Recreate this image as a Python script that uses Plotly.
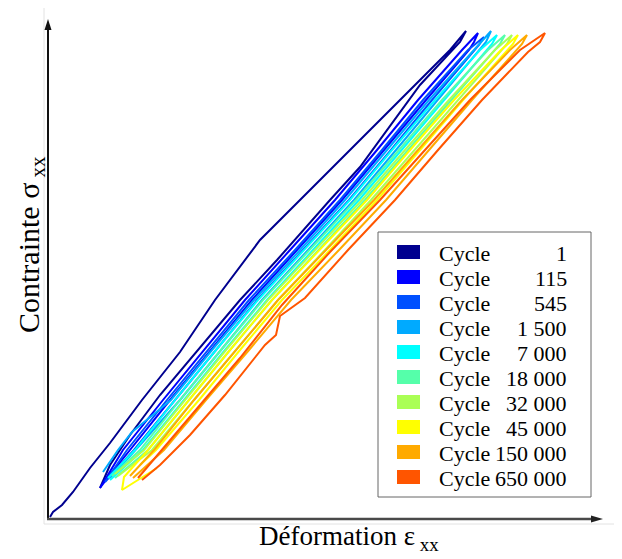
import plotly.graph_objects as go

# ---------------- data (arbitrary strain / stress units) ----------------
cycle_labels = ["1", "115", "545", "1 500", "7 000", "18 000", "32 000", "45 000", "150 000", "650 000"]
cycle_colors = ["#00008F", "#0000FF", "#0050FF", "#00AAFF", "#00FFFF",
                "#55FFAA", "#AAFF55", "#FFFF00", "#FFAA00", "#FF5500"]

c1_strain = [2, 5, 14, 25, 42, 62, 94, 132, 167, 212, 252, 292, 332, 372, 402, 418,
             412, 372, 312, 282, 229, 192, 152, 112, 82, 62, 52]
c1_stress = [2, 7, 14, 27, 51, 76, 119, 167, 219, 279, 319, 359, 399, 439, 469, 488,
             477, 434, 352, 319, 259, 219, 171, 124, 84, 54, 31]

c115_strain = [52, 64, 75, 115, 156, 197, 242, 287, 329, 370, 414, 430,
               426, 421, 378, 336, 294, 249, 204, 163, 122, 82, 64, 52]
c115_stress = [31, 51, 69, 119, 169, 219, 269, 319, 369, 419, 469, 486,
               477, 469, 419, 369, 319, 269, 219, 169, 119, 69, 47, 31]

c545_strain = [57, 79, 119, 160, 201, 247, 292, 334, 375, 420, 436,
               431, 384, 343, 301, 255, 209, 168, 127, 86, 57]
c545_stress = [37, 69, 119, 169, 219, 269, 319, 369, 419, 469, 482,
               474, 419, 369, 319, 269, 219, 169, 119, 69, 37]

c1500_strain = [55, 70, 84, 123, 164, 206, 252, 297, 339, 381, 426, 443,
                438, 390, 348, 306, 260, 214, 173, 132, 92, 77, 62]
c1500_stress = [47, 69, 87, 119, 169, 219, 269, 319, 369, 419, 469, 488,
                477, 419, 369, 319, 269, 219, 169, 119, 74, 57, 41]

c7000_strain = [60, 87, 127, 168, 210, 256, 302, 344, 387, 432, 449,
                444, 396, 353, 311, 265, 219, 177, 136, 95, 62]
c7000_stress = [41, 69, 119, 169, 219, 269, 319, 369, 419, 469, 484,
                475, 419, 369, 319, 269, 219, 169, 119, 69, 39]

c18000_strain = [64, 92, 132, 173, 215, 262, 308, 351, 394, 440, 457,
                 452, 403, 360, 317, 271, 224, 182, 141, 100, 67]
c18000_stress = [43, 69, 119, 169, 219, 269, 319, 369, 419, 469, 484,
                 475, 419, 369, 319, 269, 219, 169, 119, 69, 41]

c32000_strain = [67, 96, 137, 178, 220, 267, 314, 357, 401, 447, 464,
                 459, 410, 366, 323, 277, 230, 188, 146, 104, 70]
c32000_stress = [45, 69, 119, 169, 219, 269, 319, 369, 419, 469, 484,
                 475, 419, 369, 319, 269, 219, 169, 119, 69, 43]

c45000_strain = [109, 74, 76, 100, 141, 182, 224, 272, 319, 362, 406, 453, 470,
                 465, 415, 372, 329, 282, 234, 192, 151, 108, 92]
c45000_stress = [51, 29, 42, 69, 119, 169, 219, 269, 319, 369, 419, 469, 484,
                 475, 419, 369, 319, 269, 219, 169, 119, 69, 54]

c150000_strain = [82, 106, 146, 188, 230, 278, 326, 370, 414, 462, 479,
                  474, 424, 381, 338, 291, 243, 201, 158, 116, 85]
c150000_stress = [43, 69, 119, 169, 219, 269, 319, 369, 419, 469, 484,
                  475, 419, 369, 319, 269, 219, 169, 119, 69, 41]

c650000_strain = [90, 112, 152, 192, 234, 282, 332, 377, 422, 472, 497,
                  492, 480, 434, 390, 347, 300, 257, 237, 232, 228, 217, 177, 142, 112, 94]
c650000_stress = [41, 67, 114, 161, 214, 267, 319, 369, 419, 469, 486,
                  477, 467, 419, 369, 319, 269, 221, 207, 203, 184, 174, 124, 84, 54, 39]

strains = [c1_strain, c115_strain, c545_strain, c1500_strain, c7000_strain,
           c18000_strain, c32000_strain, c45000_strain, c150000_strain, c650000_strain]
stresses = [c1_stress, c115_stress, c545_stress, c1500_stress, c7000_stress,
            c18000_stress, c32000_stress, c45000_stress, c150000_stress, c650000_stress]

# ---------------- figure ----------------
# the page body has an 8px margin; figure placed at page (8, 8)
OFF = 8
W, H = 606, 543
ML, MR, MT, MB = 40, 12, 12, 32
PW, PH = W - ML - MR, H - MT - MB
X_MAX, Y_MAX = 554, 499
FONT = "Liberation Serif, Times New Roman, serif"


def px(xp):
    """page pixel x -> paper x"""
    return (xp - OFF - ML) / PW


def py(yp):
    """page pixel y -> paper y"""
    return (H - MB - (yp - OFF)) / PH


fig = go.Figure()
for lab, col, sx, sy in zip(cycle_labels, cycle_colors, strains, stresses):
    fig.add_trace(go.Scatter(x=sx, y=sy, mode="lines", name="Cycle " + lab,
                             line=dict(color=col, width=2), showlegend=False,
                             hoverinfo="skip"))

shapes = []
annotations = []

# faint outer frame (left and bottom)
shapes.append(dict(type="line", xref="paper", yref="paper", x0=px(44), x1=px(44), y0=py(8), y1=py(524),
                   line=dict(color="#e2e2e2", width=1)))
shapes.append(dict(type="line", xref="paper", yref="paper", x0=px(44), x1=px(614), y0=py(524), y1=py(524),
                   line=dict(color="#e2e2e2", width=1)))

# axes with arrowheads
shapes.append(dict(type="line", xref="paper", yref="paper", x0=px(48), x1=px(48), y0=py(519), y1=py(26),
                   line=dict(color="#111111", width=2)))
shapes.append(dict(type="path", xref="paper", yref="paper",
                   path=f"M {px(44.5)} {py(30)} L {px(51.5)} {py(30)} L {px(48)} {py(19)} Z",
                   fillcolor="#111111", line=dict(width=0)))
shapes.append(dict(type="line", xref="paper", yref="paper", x0=px(47), x1=px(594), y0=py(519), y1=py(519),
                   line=dict(color="#4a4a4a", width=2.6)))
shapes.append(dict(type="path", xref="paper", yref="paper",
                   path=f"M {px(591)} {py(515.5)} L {px(591)} {py(522.5)} L {px(603)} {py(519)} Z",
                   fillcolor="#222222", line=dict(width=0)))

# axis titles
annotations.append(dict(x=px(31), y=py(245), xref="paper", yref="paper", showarrow=False,
                        text="Contrainte σ<sub> xx</sub>", textangle=-90,
                        font=dict(family=FONT, size=30, color="#000"),
                        xanchor="center", yanchor="middle"))
annotations.append(dict(x=px(349), y=py(538), xref="paper", yref="paper", showarrow=False,
                        text="Déformation ε<sub> xx</sub>",
                        font=dict(family=FONT, size=27, color="#000"),
                        xanchor="center", yanchor="middle"))

# legend box
shapes.append(dict(type="rect", xref="paper", yref="paper", x0=px(378), x1=px(591), y0=py(497), y1=py(232),
                   line=dict(color="#666666", width=1), fillcolor="white", layer="above"))
for i, (lab, col) in enumerate(zip(cycle_labels, cycle_colors)):
    cy = 252 + 25 * i
    shapes.append(dict(type="rect", xref="paper", yref="paper", x0=px(397), x1=px(420),
                       y0=py(cy + 7), y1=py(cy - 7), line=dict(width=0), fillcolor=col, layer="above"))
    annotations.append(dict(x=px(437), y=py(cy + 1), xref="paper", yref="paper", showarrow=False,
                            text="Cycle", font=dict(family=FONT, size=22, color="#000"),
                            xanchor="left", yanchor="middle"))
    annotations.append(dict(x=px(569), y=py(cy + 1), xref="paper", yref="paper", showarrow=False,
                            text=lab, font=dict(family=FONT, size=22, color="#000"),
                            xanchor="right", yanchor="middle"))

fig.update_layout(
    width=W, height=H,
    margin=dict(l=ML, r=MR, t=MT, b=MB),
    paper_bgcolor="white", plot_bgcolor="white",
    xaxis=dict(range=[0, X_MAX], visible=False, fixedrange=True),
    yaxis=dict(range=[0, Y_MAX], visible=False, fixedrange=True),
    shapes=shapes, annotations=annotations, showlegend=False,
)

fig.write_html("out.html")
